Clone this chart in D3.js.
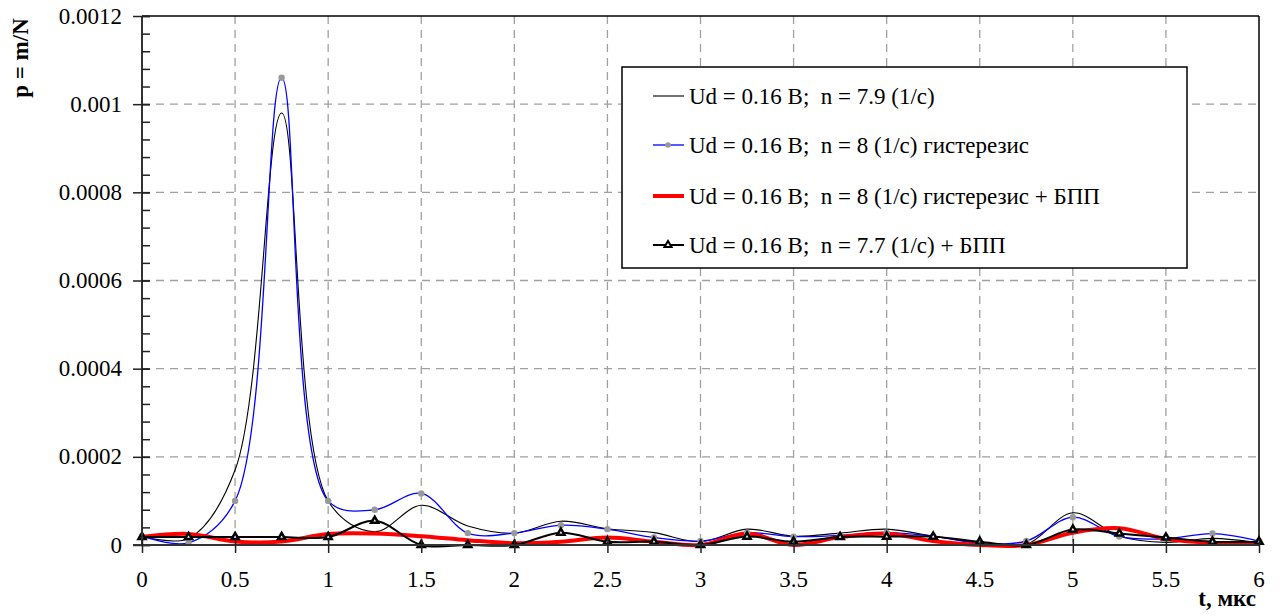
<!DOCTYPE html>
<html><head><meta charset="utf-8">
<script src="https://cdn.jsdelivr.net/npm/d3@7"></script>
<style>text{font-family:"Liberation Serif";}</style>
</head>
<body style="margin:0;background:#fff">
<svg id="c" width="1282" height="616" font-family="Liberation Serif"></svg>
<script>
const tValues = [0,0.25,0.5,0.75,1,1.25,1.5,1.75,2,2.25,2.5,2.75,3,3.25,3.5,3.75,4,4.25,4.5,4.75,5,5.25,5.5,5.75,6];
const s1 = [0.00002,0.000015,0.00017,0.00098,0.0001,0.00003,0.00009,0.000043,0.000027,0.000054,0.000037,0.000028,0.0000075,0.000036,0.00002,0.000027,0.000036,0.00002,0.000005,0.000001,0.000073,0.00002,0.000006,0.000015,0.000005];
const s2 = [0.00002,0.000005,0.0001,0.00106,0.0001,0.00008,0.000117,0.000027,0.000027,0.000045,0.000036,0.000017,0.000009,0.000028,0.000019,0.000022,0.000028,0.00002,0.000004,0.000009,0.000063,0.000019,0.000014,0.000026,0.000009];
const s3 = [0.000018,0.000025,0.000008,0.000008,0.000025,0.000026,0.00002,0.000011,0.000004,0.0000075,0.000017,0.0000075,0.0,0.000026,0.0,0.000018,0.000026,0.000009,0.0,0.0,0.000028,0.000038,0.000014,0.000005,0.000005];
const s4 = [0.000018,0.000018,0.000018,0.000018,0.000018,0.000055,0.0,0.0,0.0,0.000028,0.0000075,0.0000075,0.0,0.000019,0.0000075,0.000018,0.000019,0.000019,0.0000075,0.0,0.000035,0.000026,0.000017,0.0000075,0.0000075];
const seriesNames = [
  "Ud = 0.16 В;  n = 7.9 (1/с)",
  "Ud = 0.16 В;  n = 8 (1/с) гистерезис",
  "Ud = 0.16 В;  n = 8 (1/с) гистерезис + БПП",
  "Ud = 0.16 В;  n = 7.7 (1/с) + БПП"
];
const xTicks = [0,0.5,1,1.5,2,2.5,3,3.5,4,4.5,5,5.5,6];
const yTicks = [0,0.0002,0.0004,0.0006,0.0008,0.001,0.0012];
const yTickLabels = ["0","0.0002","0.0004","0.0006","0.0008","0.001","0.0012"];
const xTickLabels = ["0","0.5","1","1.5","2","2.5","3","3.5","4","4.5","5","5.5","6"];
const yMinor = d3.range(0,31).map(i=>i*0.00004);
const yTitle = "p = m/N";
const xTitle = "t, мкс";

const svg = d3.select("#c");
const L=142,R=1259,T=16,B=545;
const x = d3.scaleLinear().domain([0,6]).range([L,R]);
const y = d3.scaleLinear().domain([0,0.0012]).range([B,T]);
const FS = 23;
function serif(sel){
  return sel.attr("font-size",FS).attr("font-family","Liberation Serif")
    .style("font-family",'"Times New Roman"');
}

// grid
const grid = svg.append("g");
grid.selectAll("line.v").data(xTicks.slice(1,-1)).join("line")
  .attr("x1",d=>x(d)).attr("x2",d=>x(d)).attr("y1",T).attr("y2",B)
  .attr("stroke","#a0a0a0").attr("stroke-width",1.3).attr("stroke-dasharray","8,6");
grid.selectAll("line.h").data(yTicks.slice(1,-1)).join("line")
  .attr("x1",L).attr("x2",R).attr("y1",d=>y(d)).attr("y2",d=>y(d))
  .attr("stroke","#a0a0a0").attr("stroke-width",1.3).attr("stroke-dasharray","8,6");

svg.append("line").attr("x1",L).attr("x2",R).attr("y1",T).attr("y2",T).attr("stroke","#000").attr("stroke-width",1.5);
svg.append("line").attr("x1",R).attr("x2",R).attr("y1",T).attr("y2",B).attr("stroke","#000").attr("stroke-width",1.5);

// series
const data = [s1,s2,s3,s4];
const line = d3.line().x((d,i)=>x(tValues[i])).y(d=>y(d)).curve(d3.curveCatmullRom.alpha(0.5));
const styles = [
  {stroke:"#000",w:1.1},
  {stroke:"#0000ff",w:1.3},
  {stroke:"#ff0000",w:4},
  {stroke:"#000",w:2}
];
data.forEach((s,k)=>{
  svg.append("path").datum(s).attr("d",line).attr("fill","none")
    .attr("stroke",styles[k].stroke).attr("stroke-width",styles[k].w);
});
const tri = d3.symbol().type(d3.symbolTriangle).size(22);
svg.append("g").selectAll("circle").data(s2).join("circle")
  .attr("cx",(d,i)=>x(tValues[i])).attr("cy",d=>y(d)).attr("r",3.2).attr("fill","#999");
svg.append("g").selectAll("path").data(s4).join("path")
  .attr("d",tri).attr("transform",(d,i)=>`translate(${x(tValues[i])},${y(d)})`)
  .attr("fill","#fff").attr("stroke","#000").attr("stroke-width",2.5);

// axes
const yAxis = svg.append("g").attr("transform",`translate(${L},0)`)
  .call(d3.axisLeft(y).tickValues(yTicks).tickFormat("").tickSize(9));
yAxis.selectAll(".tick line").attr("x1",8);
const yMin = svg.append("g").attr("transform",`translate(${L},0)`)
  .call(d3.axisRight(y).tickValues(yMinor).tickSize(8).tickFormat(""));
yMin.select(".domain").remove();
const xAxis = svg.append("g").attr("transform",`translate(0,${B})`)
  .call(d3.axisBottom(x).tickValues(xTicks).tickFormat("").tickSize(8));
xAxis.selectAll(".tick line").attr("y1",-6);
[yAxis,yMin,xAxis].forEach(g=>{
  g.attr("font-family",null).attr("font-size",null);
  g.selectAll(".domain").attr("stroke","#333").attr("stroke-width",2);
  g.selectAll(".tick line").attr("stroke","#222").attr("stroke-width",1.5);
  g.selectAll("text").remove();
});
yAxis.select(".domain").attr("d",`M0,${T}V${B}`);
xAxis.select(".domain").attr("d",`M${L-9},0H${R}`);

const labels = svg.append("g");
yTicks.forEach((v,i)=>{
  serif(labels.append("text")).attr("x",L-20).attr("y",y(v)).attr("dy","0.33em")
    .attr("text-anchor","end").text(yTickLabels[i]);
});
xTicks.forEach((v,i)=>{
  serif(labels.append("text")).attr("x",x(v)).attr("y",B+42)
    .attr("text-anchor","middle").text(xTickLabels[i]);
});

// titles
serif(svg.append("text")).attr("transform","translate(28,58) rotate(-90)").attr("text-anchor","middle")
  .attr("font-weight","bold").text(yTitle);
serif(svg.append("text")).attr("x",1256).attr("y",606).attr("text-anchor","end")
  .attr("font-weight","bold").text(xTitle);

// legend
const lg = svg.append("g");
lg.append("rect").attr("x",622).attr("y",67).attr("width",565).attr("height",201)
  .attr("fill","#fff").attr("stroke","#000").attr("stroke-width",1.5);
const rowsY = [96,145,196,245];
seriesNames.forEach((n,k)=>{
  const yy = rowsY[k];
  lg.append("line").attr("x1",653).attr("x2",684).attr("y1",yy).attr("y2",yy)
    .attr("stroke",styles[k].stroke).attr("stroke-width",styles[k].w);
  if(k===1) lg.append("circle").attr("cx",668).attr("cy",yy).attr("r",2.8).attr("fill","#999");
  if(k===3) lg.append("path").attr("d",tri).attr("transform",`translate(668,${yy})`).attr("fill","#fff").attr("stroke","#000").attr("stroke-width",2);
  serif(lg.append("text")).attr("x",689).attr("y",yy).attr("dy","0.35em")
    .style("white-space","pre").text(n);
});
</script>
</body></html>
